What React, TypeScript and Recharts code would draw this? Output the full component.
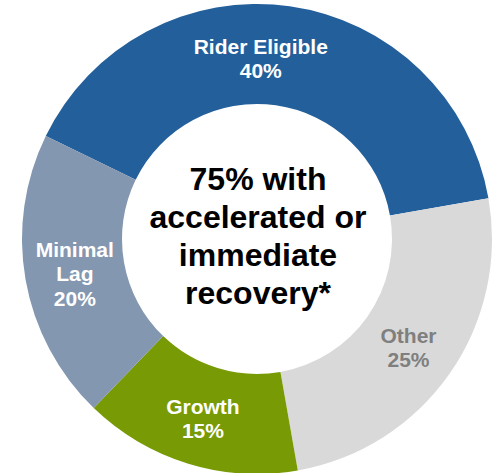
import { PieChart, Pie, Cell, Label } from "recharts";

const categories = ["Rider Eligible", "Other", "Growth", "Minimal\nLag"];
const shares = [40, 25, 15, 20];
const centerLines = ["75% with", "accelerated or", "immediate", "recovery*"];

const colors = ["#235F9B", "#D9D9D9", "#789A04", "#8497B0"];
const labelColors = ["#ffffff", "#7F7F7F", "#ffffff", "#ffffff"];

const data = categories.map((name, i) => ({ name, value: shares[i] }));

const RADIAN = Math.PI / 180;
const FONT = "'Liberation Sans', Arial, sans-serif";
const LABEL_SIZE = 21;
const LABEL_LH = 24.5;
const CX = 257;
const CY = 239;

// the top label sits a little left of its slice middle in the original
const labelNudge: Record<string, number> = { "Rider Eligible": -22 };

const renderSliceLabel = (props: any) => {
  const { cx, cy, midAngle, innerRadius, outerRadius, name, value, index } = props;
  const r = (innerRadius + outerRadius) / 2;
  const x = cx + r * Math.cos(-midAngle * RADIAN) + (labelNudge[name] ?? 0);
  const y = cy + r * Math.sin(-midAngle * RADIAN);
  const lines = [...String(name).split("\n"), `${value}%`];
  const first = y - ((lines.length - 1) * LABEL_LH - 14) / 2 + 3;
  return (
    <text
      x={x}
      y={first}
      textAnchor="middle"
      fill={labelColors[index]}
      fontFamily={FONT}
      fontWeight="bold"
      fontSize={LABEL_SIZE}
    >
      {lines.map((line, i) => (
        <tspan key={i} x={x} dy={i === 0 ? 0 : LABEL_LH}>
          {line}
        </tspan>
      ))}
    </text>
  );
};

const renderCenter = () => (
  <text
    x={CX + 1}
    y={CY - 49.5}
    textAnchor="middle"
    fill="#000000"
    fontFamily={FONT}
    fontWeight="bold"
    fontSize={32}
  >
    {centerLines.map((line, i) => (
      <tspan key={i} x={CX + 1} dy={i === 0 ? 0 : 38.3}>
        {line}
      </tspan>
    ))}
  </text>
);

export default function App() {
  return (
    <div style={{ position: "absolute", left: 0, top: 0, width: 493, height: 473, background: "#fff" }}>
      <PieChart width={493} height={473} margin={{ top: 0, right: 0, bottom: 0, left: 0 }}>
        <Pie
          data={data}
          dataKey="value"
          nameKey="name"
          cx={CX}
          cy={CY}
          innerRadius={135}
          outerRadius={235}
          startAngle={154}
          endAngle={-206}
          stroke="none"
          label={renderSliceLabel}
          labelLine={false}
          isAnimationActive={false}
        >
          {data.map((d, i) => (
            <Cell key={d.name} fill={colors[i]} />
          ))}
          <Label position="center" content={renderCenter} />
        </Pie>
      </PieChart>
    </div>
  );
}
